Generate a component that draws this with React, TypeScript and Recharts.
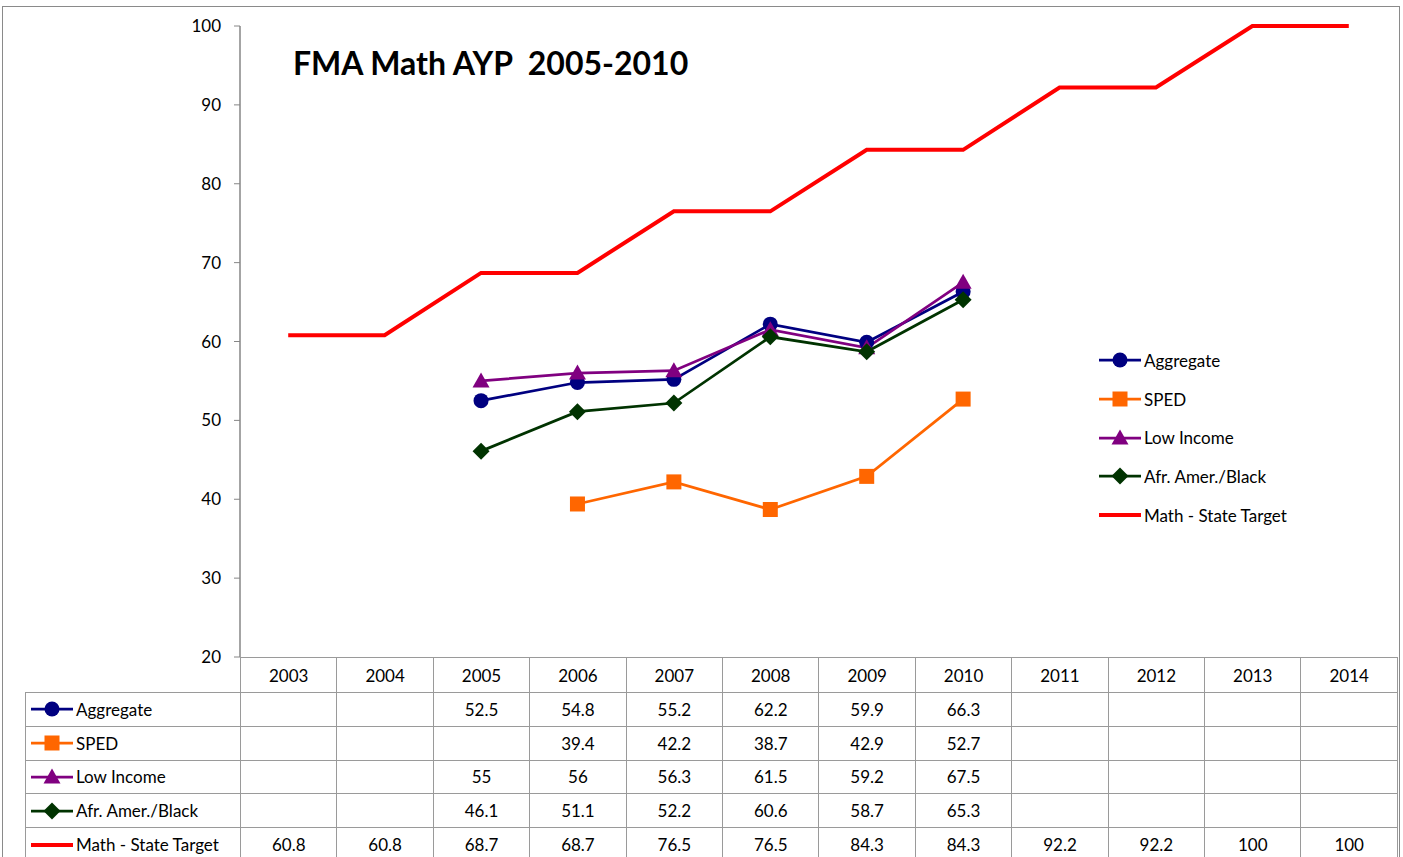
import { LineChart, Line, XAxis, YAxis, Legend } from 'recharts';

const years = ['2003', '2004', '2005', '2006', '2007', '2008', '2009', '2010', '2011', '2012', '2013', '2014'];
const aggregate = [null, null, 52.5, 54.8, 55.2, 62.2, 59.9, 66.3, null, null, null, null];
const sped = [null, null, null, 39.4, 42.2, 38.7, 42.9, 52.7, null, null, null, null];
const lowIncome = [null, null, 55, 56, 56.3, 61.5, 59.2, 67.5, null, null, null, null];
const afrAmer = [null, null, 46.1, 51.1, 52.2, 60.6, 58.7, 65.3, null, null, null, null];
const stateTarget = [60.8, 60.8, 68.7, 68.7, 76.5, 76.5, 84.3, 84.3, 92.2, 92.2, 100, 100];
const yTicks = [20, 30, 40, 50, 60, 70, 80, 90, 100];

type Shape = 'circle' | 'square' | 'triangle' | 'diamond' | 'none';

const series: { key: string; name: string; values: (number | null)[]; color: string; shape: Shape; width: number }[] = [
  { key: 'aggregate', name: 'Aggregate', values: aggregate, color: '#000080', shape: 'circle', width: 2.75 },
  { key: 'sped', name: 'SPED', values: sped, color: '#FF6600', shape: 'square', width: 2.75 },
  { key: 'lowIncome', name: 'Low Income', values: lowIncome, color: '#800080', shape: 'triangle', width: 2.75 },
  { key: 'afrAmer', name: 'Afr. Amer./Black', values: afrAmer, color: '#003300', shape: 'diamond', width: 2.75 },
  { key: 'stateTarget', name: 'Math - State Target', values: stateTarget, color: '#FF0000', shape: 'none', width: 4 },
];

const data = years.map((year, i) => {
  const row: Record<string, string | number | null> = { year };
  series.forEach((s) => (row[s.key] = s.values[i]));
  return row;
});

const FONT = 'Lato, "Open Sans", sans-serif';
const GRID = '#9a9a9a';
const PLOT_LEFT = 240;
const PLOT_RIGHT = 1397;
const COL_W = (PLOT_RIGHT - PLOT_LEFT) / years.length;

function Marker({ cx, cy, shape, color }: { cx: number; cy: number; shape: Shape; color: string }) {
  if (shape === 'circle') return <circle cx={cx} cy={cy} r={7.5} fill={color} />;
  if (shape === 'square') return <rect x={cx - 7.5} y={cy - 7.5} width={15} height={15} fill={color} />;
  if (shape === 'triangle')
    return <polygon points={`${cx},${cy - 8.5} ${cx + 8.5},${cy + 6.5} ${cx - 8.5},${cy + 6.5}`} fill={color} />;
  if (shape === 'diamond')
    return <polygon points={`${cx},${cy - 8.5} ${cx + 8.5},${cy} ${cx},${cy + 8.5} ${cx - 8.5},${cy}`} fill={color} />;
  return null;
}

function Swatch({ color, shape, width }: { color: string; shape: Shape; width: number }) {
  return (
    <svg width={44} height={18} style={{ display: 'block' }}>
      <line x1={1} y1={9} x2={43} y2={9} stroke={color} strokeWidth={width} />
      <Marker cx={22} cy={9} shape={shape} color={color} />
    </svg>
  );
}

function LegendBox() {
  return (
    <div style={{ fontFamily: FONT, fontSize: 17, color: '#000' }}>
      {series.map((s) => (
        <div key={s.key} style={{ display: 'flex', alignItems: 'center', height: 38.7 }}>
          <Swatch color={s.color} shape={s.shape} width={s.width} />
          <span style={{ marginLeft: 2 }}>{s.name}</span>
        </div>
      ))}
    </div>
  );
}

const cell = {
  border: `1.5px solid ${GRID}`,
  textAlign: 'center' as const,
  padding: 0,
  fontSize: 17,
};

function DataTable() {
  return (
    <table
      style={{
        position: 'absolute',
        left: 25,
        top: 657,
        borderCollapse: 'collapse',
        tableLayout: 'fixed',
        width: PLOT_RIGHT - 25,
        fontFamily: FONT,
        color: '#000',
      }}
    >
      <colgroup>
        <col style={{ width: PLOT_LEFT - 25 }} />
        {years.map((y) => (
          <col key={y} style={{ width: COL_W }} />
        ))}
      </colgroup>
      <tbody>
        <tr style={{ height: 35 }}>
          <td style={{ border: 'none' }} />
          {years.map((y) => (
            <td key={y} style={cell}>{y}</td>
          ))}
        </tr>
        {series.map((s) => (
          <tr key={s.key} style={{ height: 33.8 }}>
            <td style={{ ...cell, textAlign: 'left' }}>
              <div style={{ display: 'flex', alignItems: 'center' }}>
                <span style={{ marginLeft: 4 }}>
                  <Swatch color={s.color} shape={s.shape} width={s.width} />
                </span>
                <span style={{ marginLeft: 2 }}>{s.name}</span>
              </div>
            </td>
            {s.values.map((v, i) => (
              <td key={i} style={cell}>{v === null ? '' : v}</td>
            ))}
          </tr>
        ))}
      </tbody>
    </table>
  );
}

export default function App() {
  return (
    <div style={{ position: 'absolute', left: 0, top: 0, width: 1403, height: 857, overflow: 'hidden', background: '#fff' }}>
      <div
        style={{
          position: 'absolute',
          left: 2,
          top: 6,
          width: 1396,
          height: 900,
          border: '1.5px solid #8a8a8a',
        }}
      />
      <LineChart width={1403} height={857} data={data} margin={{ top: 26, right: 1403 - PLOT_RIGHT, bottom: 200, left: 180 }}>
        <XAxis dataKey="year" hide padding={{ left: COL_W / 2, right: COL_W / 2 }} />
        <YAxis
          width={60}
          domain={[20, 100]}
          ticks={yTicks}
          interval={0}
          tickSize={6}
          tickMargin={13}
          tickLine={{ stroke: '#868686' }}
          axisLine={{ stroke: '#868686', strokeWidth: 1.5 }}
          tick={{ fill: '#000', fontSize: 17, fontFamily: FONT }}
        />
        <Legend
          layout="vertical"
          verticalAlign="middle"
          align="center"
          wrapperStyle={{ left: 1098, top: 341, width: 260 }}
          content={() => <LegendBox />}
        />
        {series.map((s) => (
          <Line
            key={s.key}
            dataKey={s.key}
            name={s.name}
            stroke={s.color}
            strokeWidth={s.width}
            isAnimationActive={false}
            dot={(p: any) =>
              p.cy == null || s.shape === 'none' ? (
                <g key={p.key ?? p.index} />
              ) : (
                <g key={p.key ?? p.index}>
                  <Marker cx={p.cx} cy={p.cy} shape={s.shape} color={s.color} />
                </g>
              )
            }
            activeDot={false}
          />
        ))}
      </LineChart>
      <div
        style={{
          position: 'absolute',
          left: 293,
          top: 43,
          fontFamily: FONT,
          fontWeight: 700,
          fontSize: 32,
          whiteSpace: 'pre',
          color: '#000',
        }}
      >
        {'FMA Math AYP  2005-2010'}
      </div>
      <DataTable />
    </div>
  );
}
